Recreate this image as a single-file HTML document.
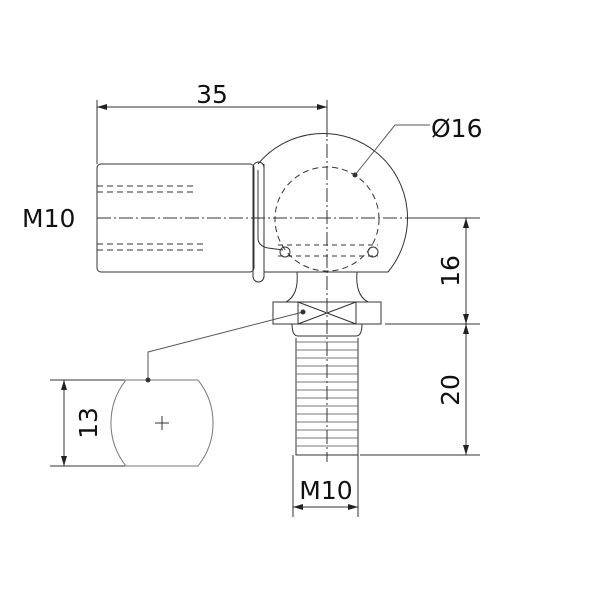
<!DOCTYPE html>
<html><head><style>body{margin:0;background:#fff}svg{display:block}</style></head><body>
<svg width="600" height="600" viewBox="0 0 600 600" xmlns="http://www.w3.org/2000/svg" font-family="DejaVu Sans, Liberation Sans, sans-serif">
<defs><marker id="a" viewBox="0 0 10 6" refX="10" refY="3" markerWidth="10" markerHeight="6" orient="auto-start-reverse" markerUnits="userSpaceOnUse"><path d="M0,0L10,3L0,6z" fill="#222"/></marker></defs>
<g fill="none" stroke="#333" stroke-width="1">
<rect x="97" y="164" width="157" height="108" rx="4"/>
<path d="M258 164 A80 80 0 1 1 388 272 L264 272"/>
<circle cx="327" cy="219" r="52" stroke-dasharray="6,4"/>
<line x1="264" y1="164" x2="264" y2="272"/>
<rect x="253" y="162" width="11" height="120" rx="5.5"/>
<path d="M258 170 V238 Q258 246 268 248 L283 250"/>
<circle cx="285" cy="252" r="5"/><circle cx="373" cy="252" r="5"/>
<line x1="278" y1="245" x2="378" y2="245" stroke-dasharray="5,4"/>
<line x1="278" y1="256" x2="378" y2="256" stroke-dasharray="5,4"/>
<g stroke-dasharray="6,4"><line x1="97" y1="186" x2="195" y2="186"/><line x1="97" y1="192" x2="195" y2="192"/><line x1="97" y1="244" x2="205" y2="244"/><line x1="97" y1="250" x2="205" y2="250"/></g>
<path d="M297 272 Q299 295 286 302 M357 272 Q355 295 368 302"/>
<rect x="273" y="302" width="108" height="22"/>
<line x1="298" y1="302" x2="298" y2="324"/><line x1="356" y1="302" x2="356" y2="324"/>
<line x1="298" y1="302" x2="356" y2="324"/><line x1="298" y1="324" x2="356" y2="302"/>
<path d="M292 324 Q292 336 298 336 L356 336 Q362 336 362 324"/>
<path d="M296 338 L296 455 L358 455 L358 338"/>
<g stroke="#777">
<path d="M296 342h62M296 350h62M296 358h62M296 366h62M296 374h62M296 382h62M296 390h62M296 398h62M296 406h62M296 414h62M296 422h62M296 430h62M296 438h62M296 446h62"/>
</g>
<path d="M126 380 L198 380 A69 69 0 0 1 198 466 L126 466 A69 69 0 0 1 126 380 Z" stroke="#777"/>
<path d="M155 423h14M162 416v14"/>
<path d="M148 380 V352 L303 312" stroke="#555"/>
<path d="M355 175 L395 125 L430 125" stroke="#555"/>
<line x1="97" y1="218" x2="420" y2="218" stroke-dasharray="14,3,2,3"/>
<line x1="327" y1="100" x2="327" y2="462" stroke-dasharray="14,3,2,3"/>
<path d="M97 100V164M327 100V137M410 218H480M385 324H480M360 455H480M50 380H125M50 466H125M293 455V517M358 455V517"/>
<line x1="97" y1="107" x2="327" y2="107" marker-start="url(#a)" marker-end="url(#a)"/>
<line x1="466" y1="218" x2="466" y2="324" marker-start="url(#a)" marker-end="url(#a)"/>
<line x1="466" y1="324" x2="466" y2="455" marker-start="url(#a)" marker-end="url(#a)"/>
<line x1="64" y1="380" x2="64" y2="466" marker-start="url(#a)" marker-end="url(#a)"/>
<line x1="293" y1="507" x2="358" y2="507" marker-start="url(#a)" marker-end="url(#a)"/>
</g>
<circle cx="148" cy="380" r="2.5" fill="#333"/><circle cx="303" cy="312" r="2.5" fill="#333"/><circle cx="355" cy="175" r="2.5" fill="#333"/>
<g fill="#111" font-size="25">
<text x="212" y="103" text-anchor="middle">35</text>
<text x="431" y="137">Ø16</text>
<text x="22" y="227">M10</text>
<text x="326" y="499" text-anchor="middle">M10</text>
<text transform="translate(459,271) rotate(-90)" text-anchor="middle">16</text>
<text transform="translate(459,390) rotate(-90)" text-anchor="middle">20</text>
<text transform="translate(97,423) rotate(-90)" text-anchor="middle">13</text>
</g>
</svg>
</body></html>
